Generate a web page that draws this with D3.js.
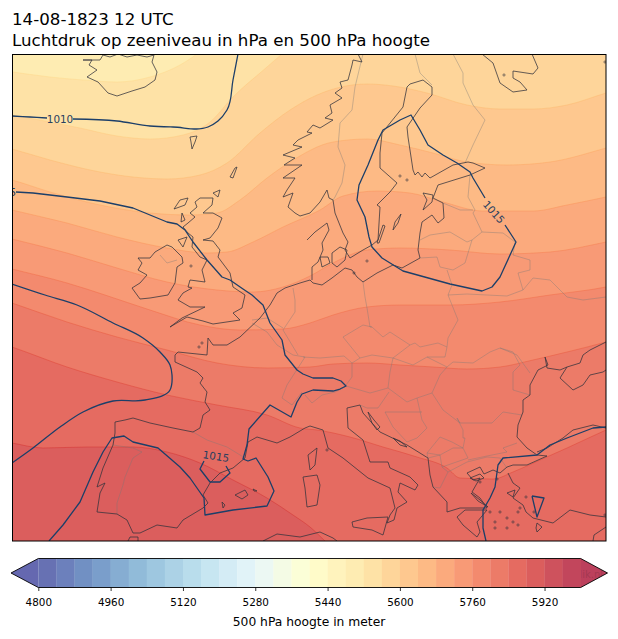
<!DOCTYPE html>
<html><head><meta charset="utf-8">
<script src="https://cdn.jsdelivr.net/npm/d3@7"></script>
<style>html,body{margin:0;padding:0;background:#fff}svg{display:block}text{font-family:"DejaVu Sans",sans-serif}</style>
</head><body><svg id="c" width="618" height="639"></svg>
<script>
// ---------- text ----------
const titleLines = ["14-08-1823 12 UTC", "Luchtdruk op zeeniveau in hPa en 500 hPa hoogte"];
const colorbarLabel = "500 hPa hoogte in meter";
const watermark = "meteoblik.nl";
// ---------- colour levels ----------
const levelMin = 4800, levelMax = 6000, levelStep = 40;
const cbTicks = [4800, 4960, 5120, 5280, 5440, 5600, 5760, 5920];
const ramp = ["#313695","#4575b4","#74add1","#abd9e9","#e0f3f8","#ffffbf","#fee090","#fdae61","#f46d43","#d73027","#a50026"];
// height of each filled band on the map, from north to south
const bandValues = [5500,5540,5580,5620,5660,5700,5740,5780,5820,5860,5900];
// ---------- height contours (map grid units) ----------
const h0 = [[0,70],[50,77],[83,80],[117,82],[150,77],[180,65],[197,54],[215,40],[620,40]];
const h1 = [[0,113],[12,115],[80,128],[117,136],[150,139],[183,135],[210,122],[233,97],[267,67],[282,54],[300,40],[620,40]];
const h2 = [[0,146],[12,149],[50,160],[100,172],[133,177],[167,179],[200,175],[227,163],[260,133],[290,110],[317,95],[337,88],[367,84],[393,86],[427,93],[467,105],[500,109],[533,109],[567,105],[606,93],[620,89]];
const h3 = [[0,177],[12,180],[50,192],[100,205],[150,213],[190,215],[217,213],[240,200],[267,178],[290,162],[333,142],[367,139],[400,145],[433,153],[467,162],[507,165],[550,162],[606,148],[620,144]];
const h4 = [[0,207],[12,210],[67,223],[117,237],[167,248],[207,253],[227,252],[253,242],[283,227],[320,210],[343,196],[377,191],[410,193],[443,202],[483,211],[533,211],[567,205],[606,197],[620,194]];
const h5 = [[0,236],[12,239],[67,253],[117,268],[167,282],[217,290],[253,292],[283,287],[310,276],[333,263],[367,250],[400,248],[450,250],[500,254],[550,252],[606,242],[620,239]];
const h6 = [[0,266],[12,269],[67,283],[105,295],[150,310],[200,325],[240,330],[283,329],[310,323],[333,315],[367,307],[400,305],[450,305],[500,302],[550,295],[606,287],[620,284]];
const h7 = [[0,299],[12,303],[67,322],[117,337],[167,350],[217,363],[267,368],[310,367],[333,364],[367,363],[400,365],[433,367],[467,369],[500,367],[533,360],[567,352],[606,342],[620,338]];
const h8 = [[0,343],[12,347],[67,367],[117,382],[167,395],[217,405],[267,415],[300,428],[317,430],[350,437],[383,447],[417,457],[447,468],[460,478],[493,479],[513,472],[540,460],[567,448],[606,430],[620,424]];
const h9 = [[0,441],[12,443],[43,448],[87,447],[133,447],[167,452],[200,463],[233,480],[267,498],[293,515],[310,527],[325,541],[345,560]];
const heightLines = [h0,h1,h2,h3,h4,h5,h6,h7,h8,h9];
// ---------- isobars ----------
const p1010a = [[12,116],[30,117],[47,118]];
const p1010b = [[73,119],[117,121],[150,126],[173,127],[208,127],[218,121],[227,110],[233,80],[238,54]];
const p1015a = [[16,192],[33,193],[67,197],[100,201],[133,208],[167,222],[177,224],[185,230],[193,242],[207,260],[222,277],[230,280],[243,289],[252,295],[263,305],[270,323],[282,340],[285,355],[297,370],[303,374],[313,378],[333,378],[341,381],[346,386],[340,389],[333,391],[313,390],[302,394],[297,402],[291,417],[270,405],[249,429],[247,445],[243,459],[248,461],[256,458],[268,477],[274,491],[267,506],[233,510],[205,515],[204,498],[190,478],[180,467],[158,448],[133,442],[124,436],[112,438],[103,452],[93,472],[80,502],[63,525],[49,541]];
const p1015b = [[12,284],[45,295],[77,305],[113,323],[143,338],[160,352],[170,365],[172,375],[170,390],[145,400],[113,401],[83,412],[60,427],[33,448],[12,463]];
const p1015c = [[485,198],[473,178],[470,172],[457,163],[443,155],[428,145],[420,130],[411,115],[400,120],[383,130],[378,140],[368,165],[359,185],[357,200],[365,217],[369,237],[372,247],[382,258],[403,271],[450,284],[482,291],[492,287],[500,277],[516,242],[505,225]];
const p1015d = [[204,461],[200,469],[210,482],[220,482],[230,473],[226,466]];
const p1015e = [[606,427],[593,428],[567,438],[550,445],[537,455],[503,458],[498,465],[495,487],[490,498],[483,510],[483,528],[486,541]];
const p1015f = [[532,496],[544,498],[537,517],[532,496]];
const isobarsSmooth = [p1010a,p1010b,p1015b];
const isobarsAngular = [p1015a,p1015c,p1015d,p1015e,p1015f];
const isobarLabels = [["1010",60,118.5,0],["1015",3,192,0],["1015",494,212,48],["1015",216,456,9]];
// ---------- coastlines ----------
const iceland = [[83,60],[92,60],[89,65],[97,70],[87,77],[98,82],[108,93],[117,96],[132,91],[145,87],[155,80],[157,72],[152,62],[154,55],[147,57],[137,55],[127,57],[118,54],[110,57],[103,55],[100,60],[83,60]];
const greatBritain = [[195,202],[197,207],[190,213],[195,217],[188,223],[183,227],[188,233],[193,237],[192,247],[200,257],[207,260],[202,270],[205,282],[190,280],[188,287],[192,288],[183,293],[178,300],[190,307],[205,307],[182,318],[170,327],[187,317],[203,321],[213,324],[240,320],[233,313],[242,308],[245,295],[233,287],[230,273],[218,257],[220,250],[213,241],[203,240],[210,238],[218,228],[222,218],[213,213],[203,213],[212,205],[213,198],[200,198],[195,202]];
const ireland = [[138,258],[150,258],[155,252],[167,245],[172,247],[182,257],[183,263],[177,267],[175,283],[168,295],[150,298],[140,299],[132,288],[140,283],[147,275],[138,270],[142,263],[138,258]];
const faroe = [[190,137],[197,136],[195,142],[192,149],[191,142],[190,137]];
const shetland = [[230,177],[235,168],[237,167],[233,178],[230,177]];
const orkney = [[213,193],[220,190],[218,197],[213,193]];
const hebrides1 = [[174,209],[180,200],[188,198],[185,205],[174,209]];
const hebrides2 = [[178,240],[187,237],[183,247],[178,240]];
const hebrides3 = [[182,213],[185,220],[181,222],[182,213]];
const scandinavia = [[358,54],[362,62],[353,60],[352,65],[348,80],[340,82],[342,88],[335,93],[342,98],[330,105],[332,113],[325,118],[333,120],[320,128],[313,125],[307,132],[312,133],[302,138],[298,140],[293,145],[302,147],[283,155],[295,158],[284,165],[302,165],[283,178],[295,178],[287,190],[283,197],[293,193],[288,207],[295,213],[300,216],[310,213],[320,202],[327,190],[329,198],[333,200],[335,213],[343,233],[348,242],[345,250],[350,258],[363,250],[372,245],[378,240],[380,207],[377,205],[390,192],[397,183],[380,168],[380,153],[382,133],[403,107],[407,87],[410,84],[423,80],[432,87],[432,95],[420,108],[407,127],[408,137],[413,170],[415,175],[418,172],[422,177],[425,173],[430,178],[453,165],[468,162],[473,163],[485,168],[470,175],[438,185],[433,198],[443,203],[444,218],[438,223],[432,215],[422,222],[420,233],[418,250],[420,258],[402,268],[393,265],[377,273],[363,282],[357,277],[352,270],[345,268],[332,278],[322,285],[313,283],[310,280],[300,283],[285,288],[277,293],[270,305],[260,318],[240,337],[227,345],[213,345],[208,338],[207,355],[178,352],[175,355],[175,362],[197,372],[203,378],[200,383],[207,392],[205,402],[210,410],[203,415],[200,428],[193,432],[173,428],[150,423],[133,418],[125,420],[115,422],[115,433],[113,445],[103,468],[97,487],[105,483],[100,493],[97,512],[117,514],[127,520],[133,533],[140,533],[157,525],[177,528],[183,520],[203,508],[208,503],[203,495],[210,483],[220,473],[233,468],[245,458],[248,442],[257,437],[277,443],[290,437],[305,428],[310,426],[323,430],[328,448],[343,458],[368,478],[390,488],[395,508],[390,515],[387,523],[394,520],[397,508],[407,502],[398,492],[400,483],[415,490],[418,485],[410,477],[390,468],[388,462],[370,462],[363,440],[348,428],[347,408],[360,405],[363,413],[380,432],[407,445],[428,458],[430,475],[433,487],[447,502],[447,512],[460,508],[487,508],[480,498],[472,492],[480,478],[473,480],[467,473],[480,467],[484,474],[493,470],[500,473],[507,467],[513,465],[527,465],[547,456],[537,455],[527,448],[517,437],[518,425],[523,412],[523,400],[530,395],[530,385],[538,370],[548,365],[545,357],[547,368],[560,370],[567,367],[560,378],[573,390],[583,385],[590,375],[603,372],[606,370]];
const jutland = [[307,240],[315,232],[327,223],[329,230],[322,243],[323,250],[318,262],[312,267],[312,280]];
const azov = [[606,342],[590,350],[583,355],[580,363],[567,367]];
const whiteSea = [[482,54],[493,63],[500,83],[513,92],[527,90],[520,82],[513,78],[513,71],[533,74],[538,68],[532,54]];
const turkeyNorth = [[537,452],[547,448],[563,438],[573,430],[593,425],[606,428]];
const turkeyWest = [[508,473],[513,483],[520,488],[513,498],[523,505],[526,512],[533,518],[553,523],[570,510],[590,515],[606,517]];
const peloponnese = [[457,517],[463,525],[477,537],[480,532],[477,522],[487,510],[465,510],[457,517]];
const zealand = [[340,247],[347,250],[345,260],[337,267],[332,263],[332,253],[340,247]];
const fyn = [[320,257],[328,257],[330,263],[322,267],[320,257]];
const gotland = [[401,214],[395,222],[393,230],[398,223],[401,214]];
const oland = [[383,225],[377,243],[379,243],[385,226],[383,225]];
const saaremaa = [[423,193],[433,195],[432,202],[423,210],[427,200],[423,193]];
const corsica = [[308,455],[317,448],[315,465],[310,470],[308,455]];
const sardinia = [[303,477],[317,475],[320,485],[317,505],[307,507],[305,488],[303,477]];
const sicily = [[352,522],[367,518],[388,517],[383,535],[372,530],[353,527],[352,522]];
const majorca = [[235,495],[245,490],[248,495],[242,499],[235,495]];
const ibiza = [[222,502],[225,505],[223,508],[222,502]];
const minorca = [[253,489],[257,491],[254,491],[253,489]];
const africaW = [[128,541],[130,537],[138,537],[138,541]];
const africaE = [[263,541],[277,534],[300,537],[320,532],[333,538],[337,541]];
const croatia1 = [[368,412],[374,420],[380,427],[377,430],[372,423],[368,412]];
const croatia2 = [[393,438],[400,441],[407,447],[400,445],[393,438]];
const rhodes = [[537,523],[542,527],[537,532],[536,528],[537,523]];
const crete = [[593,541],[594,535],[606,527]];
const euboea = [[471,493],[480,500],[488,507],[478,501],[471,493]];
const chalkidiki = [[470,478],[480,474],[484,478],[476,481],[470,478]];
const lesbos = [[507,493],[515,490],[513,497],[507,493]];
const coastlines = [iceland,greatBritain,ireland,faroe,shetland,orkney,hebrides1,hebrides2,hebrides3,scandinavia,jutland,azov,whiteSea,turkeyNorth,turkeyWest,peloponnese,zealand,fyn,gotland,oland,saaremaa,corsica,sardinia,sicily,majorca,ibiza,minorca,africaW,africaE,croatia1,croatia2,rhodes,crete,euboea,chalkidiki,lesbos];
const smallIslands = [[191,266],[367,261],[504,75],[605,62],[354,273],[202,343],[199,347],[327,450],[490,512],[500,512],[507,518],[495,522],[513,522],[518,525],[495,528],[507,528],[520,508],[526,497],[518,512],[497,479],[480,482],[534,512],[605,515],[400,176],[407,180]];
// ---------- national borders ----------
const norwaySweden = [[363,54],[355,87],[352,110],[340,123],[338,147],[345,165],[342,183],[335,197],[333,200]];
const swedenFinland = [[415,54],[420,73],[432,85]];
const finlandRussia = [[453,54],[463,73],[463,83],[473,105],[485,120],[473,145],[465,163]];
const baltic1 = [[470,175],[468,197],[475,210],[473,213],[482,232],[472,240],[465,263],[453,270],[440,267],[437,257],[420,258]];
const baltic2 = [[443,203],[460,210],[473,210]];
const baltic3 = [[420,240],[430,235],[450,232],[467,242],[472,240]];
const belarus = [[482,232],[503,233],[515,242],[513,255],[530,260],[530,270],[518,273],[523,290],[533,278],[550,280],[567,297],[583,300],[606,297]];
const polandEast = [[447,270],[452,285],[448,295],[458,320],[448,338],[447,347]];
const ukraineNorth = [[448,295],[467,294],[507,296],[523,290]];
const oder = [[363,282],[365,297],[367,308],[370,327],[372,327]];
const czechNorth = [[343,337],[363,325],[372,327],[383,337],[390,332],[410,345]];
const czechSouth = [[343,337],[360,358],[372,355],[393,358],[410,345]];
const slovakia = [[410,345],[415,343],[420,347],[438,343],[447,347],[445,357],[427,357],[413,365],[393,358]];
const germanyAustria = [[360,358],[352,363],[352,377],[346,385]];
const austriaHungary = [[393,358],[390,372],[388,388],[407,402],[417,398],[432,393],[440,375],[447,367],[427,357]];
const austriaSouth = [[346,386],[370,393],[388,388]];
const slovenia = [[360,405],[367,408],[378,408],[389,392]];
const romania = [[447,367],[453,362],[473,363],[490,352],[500,348],[517,355],[530,373]];
const moldova = [[500,348],[513,352],[520,365],[513,372],[513,390],[530,395]];
const romaniaSouth = [[432,393],[443,410],[460,423],[492,423],[503,412],[522,415]];
const serbiaWest = [[417,398],[422,420],[427,428],[417,438]];
const bosnia = [[385,412],[397,412],[422,412]];
const bosniaSouth = [[385,412],[393,427],[407,442],[417,438]];
const serbiaSouth = [[460,423],[457,418],[463,430],[463,438],[465,438],[463,448],[453,448],[440,455],[427,453],[440,437],[452,442],[463,448]];
const albania = [[427,453],[428,458],[440,455],[442,467],[448,472],[440,488],[433,487]];
const macedonia = [[442,467],[468,458],[463,448]];
const greeceNorth = [[448,472],[467,462],[487,457],[500,458],[507,468]];
const bulgariaEast = [[468,460],[487,456],[507,452],[503,448],[517,443]];
const irelandBorder = [[160,255],[167,263],[177,260]];
const franceSpain = [[193,432],[207,440],[227,447],[245,458]];
const portugal = [[113,445],[133,448],[142,452],[133,458],[125,477],[123,485],[117,503],[117,514]];
const beNl = [[252,320],[267,318],[283,328]];
const franceNorth = [[252,323],[267,332],[277,345],[293,355],[305,357],[287,385],[282,398],[292,405],[302,392]];
const nlGermany = [[293,288],[295,300],[295,312],[285,327],[283,330],[298,355]];
const swissItaly = [[305,395],[312,403],[322,395],[335,392],[345,387]];
const swissNorth = [[303,357],[320,358],[344,356],[352,363]];
const borders = [norwaySweden,swedenFinland,finlandRussia,baltic1,baltic2,baltic3,belarus,polandEast,ukraineNorth,oder,czechNorth,czechSouth,slovakia,germanyAustria,austriaHungary,austriaSouth,slovenia,romania,moldova,romaniaSouth,serbiaWest,bosnia,bosniaSouth,serbiaSouth,albania,macedonia,greeceNorth,bulgariaEast,irelandBorder,franceSpain,portugal,beNl,franceNorth,nlGermany,swissItaly,swissNorth];

// ---------- drawing ----------
const svg = d3.select("#c");
const frame = {l:12.5,r:606,t:54.5,b:541};
const x = d3.scaleLinear().domain([12.5,606]).range([frame.l,frame.r]);
const y = d3.scaleLinear().domain([54.5,541]).range([frame.t,frame.b]);
const alpha = 0.75;
const rampScale = d3.scaleLinear().domain(d3.range(ramp.length).map(i=>i/(ramp.length-1))).range(ramp).interpolate(d3.interpolateRgb);
function levelColor(v){
  const c = d3.rgb(rampScale((v-levelMin)/(levelMax-levelMin)));
  return d3.rgb(c.r*alpha+255*(1-alpha),c.g*alpha+255*(1-alpha),c.b*alpha+255*(1-alpha)).formatHex();
}
svg.append("clipPath").attr("id","map").append("rect").attr("x",frame.l).attr("y",frame.t).attr("width",frame.r-frame.l).attr("height",frame.b-frame.t);
const map = svg.append("g").attr("clip-path","url(#map)");
map.append("rect").attr("x",frame.l).attr("y",frame.t).attr("width",frame.r-frame.l).attr("height",frame.b-frame.t).attr("fill",levelColor(bandValues[0]));
const area = d3.area().x(d=>x(d[0])).y0(y(700)).y1(d=>y(d[1])).curve(d3.curveMonotoneX);
const ridge = d3.line().x(d=>x(d[0])).y(d=>y(d[1])).curve(d3.curveMonotoneX);
heightLines.forEach((h,i)=>{
  map.append("path").attr("d",area(h)).attr("fill",levelColor(bandValues[i+1]));
});
heightLines.forEach((h,i)=>{
  const c = d3.rgb(rampScale((bandValues[i+1]-levelMin)/(levelMax-levelMin)));
  map.append("path").attr("d",ridge(h)).attr("fill","none").attr("stroke",c.formatHex()).attr("stroke-opacity",0.5).attr("stroke-width",0.8);
});
const straight = d3.line().x(d=>x(d[0])).y(d=>y(d[1]));
const curved = d3.line().x(d=>x(d[0])).y(d=>y(d[1])).curve(d3.curveCatmullRom.alpha(1));
map.append("g").selectAll("path").data(borders).join("path").attr("d",straight).attr("fill","none").attr("stroke","#777").attr("stroke-opacity",0.5).attr("stroke-width",0.75);
map.append("g").selectAll("path").data(coastlines).join("path").attr("d",straight).attr("fill","none").attr("stroke","#33333d").attr("stroke-opacity",0.85).attr("stroke-width",0.9).attr("stroke-linejoin","round");
map.append("g").selectAll("circle").data(smallIslands).join("circle").attr("cx",d=>x(d[0])).attr("cy",d=>y(d[1])).attr("r",1.1).attr("fill","none").attr("stroke","#33333d").attr("stroke-opacity",0.85).attr("stroke-width",0.7);
map.append("g").selectAll("path").data(isobarsAngular).join("path").attr("d",straight).attr("fill","none").attr("stroke","#1c3f69").attr("stroke-width",1.3).attr("stroke-linejoin","round");
map.append("g").selectAll("path").data(isobarsSmooth).join("path").attr("d",curved).attr("fill","none").attr("stroke","#1c3f69").attr("stroke-width",1.3);
map.append("g").selectAll("text").data(isobarLabels).join("text").text(d=>d[0])
  .attr("transform",d=>`translate(${x(d[1])},${y(d[2])}) rotate(${d[3]})`)
  .attr("text-anchor","middle").attr("dominant-baseline","central").attr("font-size",10.4).attr("fill","#2a3f5f");
svg.append("rect").attr("x",frame.l).attr("y",frame.t).attr("width",frame.r-frame.l).attr("height",frame.b-frame.t).attr("fill","none").attr("stroke","#000").attr("stroke-width",1);
// titles
svg.selectAll("text.title").data(titleLines).join("text").attr("class","title").text(d=>d)
  .attr("x",12).attr("y",(d,i)=>25+i*21).attr("font-size",16.67).attr("fill","#000");
// colour bar
const cb = {l:38.3,r:580.7,t:558.5,b:587.5,tipL:11,tipR:607.5};
const cx = d3.scaleLinear().domain([levelMin,levelMax]).range([cb.l,cb.r]);
const levels = d3.range(levelMin,levelMax,levelStep);
const mid = (cb.t+cb.b)/2;
svg.append("polygon").attr("points",[[cb.l,cb.t],[cb.l,cb.b],[cb.tipL,mid]].join(" ")).attr("fill",levelColor(levelMin));
svg.append("polygon").attr("points",[[cb.r,cb.t],[cb.r,cb.b],[cb.tipR,mid]].join(" ")).attr("fill",levelColor(levelMax));
svg.append("clipPath").attr("id","tip").append("polygon").attr("points",[[cb.r,cb.t],[cb.r,cb.b],[cb.tipR,mid]].join(" "));
svg.append("g").attr("clip-path","url(#tip)").append("text").text(watermark).attr("x",603).attr("y",578).attr("text-anchor","end").attr("font-size",10).attr("fill","#8a3046").attr("fill-opacity",0.5);
svg.append("g").selectAll("rect").data(levels).join("rect")
  .attr("x",d=>cx(d)).attr("width",d=>cx(d+levelStep)-cx(d)+0.3).attr("y",cb.t).attr("height",cb.b-cb.t)
  .attr("fill",d=>levelColor(d+levelStep/2));
svg.append("polygon").attr("points",[[cb.l,cb.t],[cb.r,cb.t],[cb.tipR,mid],[cb.r,cb.b],[cb.l,cb.b],[cb.tipL,mid]].join(" ")).attr("fill","none").attr("stroke","#000").attr("stroke-width",0.9);
const axis = d3.axisBottom(cx).tickValues(cbTicks).tickSize(3.5).tickPadding(8).tickFormat(d3.format("d"));
const ag = svg.append("g").attr("transform",`translate(0,${cb.b})`).call(axis);
ag.select(".domain").remove();
ag.selectAll("line").attr("stroke","#000").attr("stroke-width",0.8).attr("y2",3.5);
ag.selectAll("text").attr("font-size",10.4).attr("font-family","DejaVu Sans").attr("fill","#000");
svg.append("text").text(colorbarLabel).attr("x",309).attr("y",626).attr("text-anchor","middle").attr("font-size",12.3).attr("fill","#000");
</script></body></html>
